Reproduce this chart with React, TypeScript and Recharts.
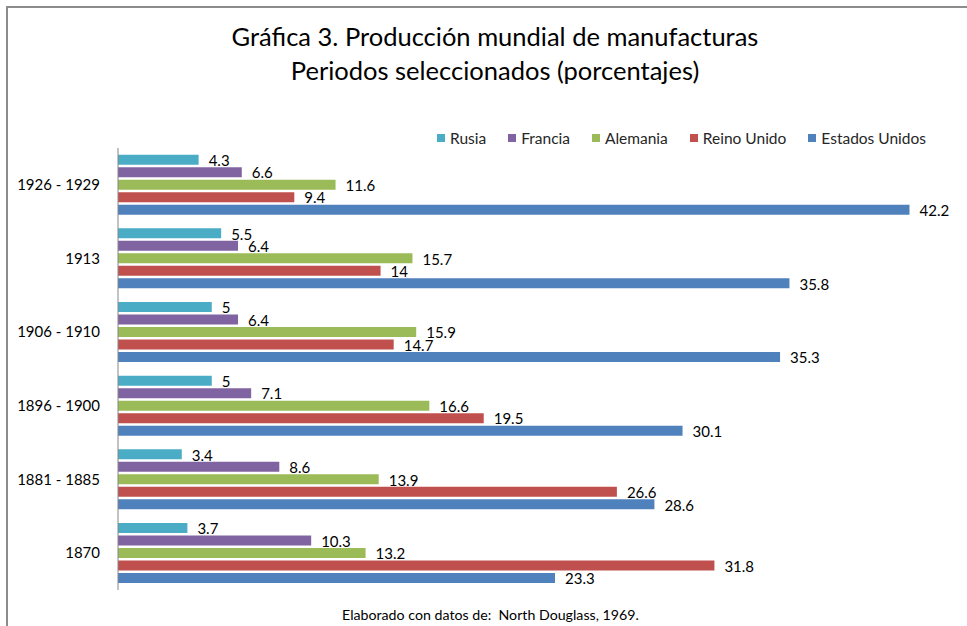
import { Bar, BarChart, LabelList, XAxis, YAxis } from 'recharts'

const periods = ['1926 - 1929', '1913', '1906 - 1910', '1896 - 1900', '1881 - 1885', '1870']
const rusia = [4.3, 5.5, 5, 5, 3.4, 3.7]
const francia = [6.6, 6.4, 6.4, 7.1, 8.6, 10.3]
const alemania = [11.6, 15.7, 15.9, 16.6, 13.9, 13.2]
const reinoUnido = [9.4, 14, 14.7, 19.5, 26.6, 31.8]
const estadosUnidos = [42.2, 35.8, 35.3, 30.1, 28.6, 23.3]

const series = [
  { key: 'rusia', name: 'Rusia', color: '#4BACC6' },
  { key: 'francia', name: 'Francia', color: '#8064A2' },
  { key: 'alemania', name: 'Alemania', color: '#9BBB59' },
  { key: 'reinoUnido', name: 'Reino Unido', color: '#C0504D' },
  { key: 'estadosUnidos', name: 'Estados Unidos', color: '#4F81BD' },
]

const data = periods.map((p, i) => ({
  period: p,
  rusia: rusia[i],
  francia: francia[i],
  alemania: alemania[i],
  reinoUnido: reinoUnido[i],
  estadosUnidos: estadosUnidos[i],
}))

const font = 'Lato, "Noto Sans", sans-serif'

function LegendRow() {
  return (
    <div
      style={{
        position: 'absolute',
        left: 437,
        top: 129,
        display: 'flex',
        alignItems: 'center',
        fontSize: 15.5,
        color: '#262626',
        whiteSpace: 'pre',
      }}
    >
      {series.map((s) => (
        <span key={s.key} style={{ display: 'flex', alignItems: 'center', marginRight: 22 }}>
          <span style={{ width: 8, height: 8, background: s.color, marginRight: 5 }} />
          {s.name}
        </span>
      ))}
    </div>
  )
}

export default function App() {
  return (
    <div
      style={{
        position: 'absolute',
        left: 0,
        top: 0,
        width: 967,
        height: 626,
        background: '#fff',
        overflow: 'hidden',
        fontFamily: font,
      }}
    >
      <div
        style={{
          position: 'absolute',
          left: 6,
          top: 6,
          width: 980,
          height: 700,
          borderTop: '2px solid #8c8c8c',
          borderLeft: '2px solid #8c8c8c',
        }}
      />
      <div
        style={{
          position: 'absolute',
          left: 0,
          width: 990,
          top: 19,
          textAlign: 'center',
          fontSize: 25.5,
          lineHeight: '34px',
          color: '#000',
        }}
      >
        Gráfica 3. Producción mundial de manufacturas
        <br />
        Periodos seleccionados (porcentajes)
      </div>
      <LegendRow />
      <div style={{ position: 'absolute', left: 0, top: 0 }}>
        <BarChart
          width={967}
          height={626}
          data={data}
          layout="vertical"
          margin={{ top: 148, right: 5, bottom: 36, left: 0 }}
          barCategoryGap="9%"
          barGap={2.5}
        >
          <XAxis type="number" hide domain={[0, 45]} />
          <YAxis
            type="category"
            dataKey="period"
            width={118}
            tickLine={false}
            tickMargin={12}
            axisLine={{ stroke: '#868686' }}
            tick={{ fontSize: 15, fill: '#000', fontFamily: font }}
          />
          {series.map((s) => (
            <Bar key={s.key} dataKey={s.key} name={s.name} fill={s.color} isAnimationActive={false}>
              <LabelList
                dataKey={s.key}
                position="right"
                offset={10}
                style={{ fontSize: 15, fill: '#000', fontFamily: font }}
                dy={1}
              />
            </Bar>
          ))}
        </BarChart>
      </div>
      <div
        style={{
          position: 'absolute',
          left: 342,
          top: 606,
          fontSize: 14.2,
          color: '#000',
          whiteSpace: 'pre',
        }}
      >
        {'Elaborado con datos de:  North Douglass, 1969.'}
      </div>
    </div>
  )
}
